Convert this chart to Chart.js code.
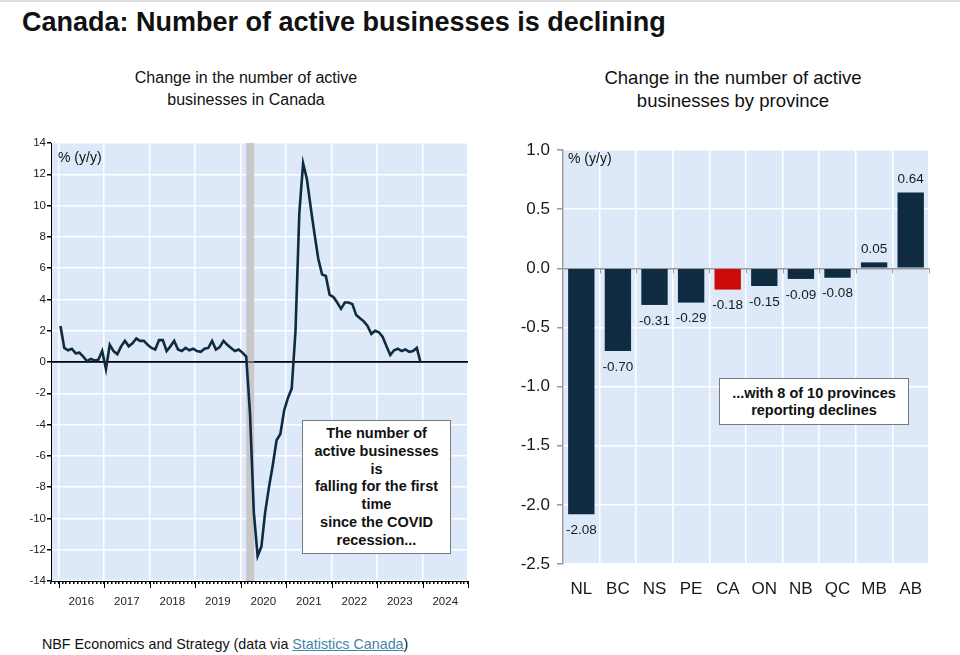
<!DOCTYPE html>
<html>
<head>
<meta charset="utf-8">
<script src="https://cdn.jsdelivr.net/npm/chart.js@4/dist/chart.umd.min.js"></script>
<style>
html,body{margin:0;padding:0;background:#fff;width:960px;height:655px;overflow:hidden;font-family:"Liberation Sans",Arial,Helvetica,sans-serif;color:#111;}
#topline{position:absolute;left:0;top:0;width:960px;height:2px;background:#dcdcdc;}
.title{position:absolute;left:22px;top:7px;font-weight:bold;font-size:27px;line-height:30px;white-space:nowrap;color:#111;}
.sub{position:absolute;width:320px;text-align:center;color:#111;}
.unit{position:absolute;font-size:14px;line-height:16px;color:#111;white-space:nowrap;}
.note{position:absolute;background:#fff;border:1.5px solid #7a7a7a;box-sizing:border-box;font-weight:bold;font-size:14.5px;text-align:center;color:#111;}
.footer{position:absolute;left:42px;top:636px;font-size:14.3px;line-height:16px;white-space:nowrap;color:#111;}
.footer span{color:#3f86a8;text-decoration:underline;}
canvas{position:absolute;}
</style>
</head>
<body>
<div id="topline"></div>
<div class="title">Canada: Number of active businesses is declining</div>
<div class="sub" style="left:86px;top:67px;font-size:16px;line-height:22px;">Change in the number of active<br>businesses in Canada</div>
<div class="sub" style="left:573px;top:66px;font-size:18.5px;line-height:23px;">Change in the number of active<br>businesses by province</div>

<canvas id="c1" width="480" height="490" style="left:0;top:130px;width:480px;height:490px;"></canvas>
<canvas id="c2" width="480" height="490" style="left:480px;top:130px;width:480px;height:490px;"></canvas>

<div class="unit" style="left:58px;top:149px;">% (y/y)</div>
<div class="unit" style="left:568px;top:150px;">% (y/y)</div>

<div class="note" style="left:302px;top:420px;width:149px;height:134px;padding-top:4px;line-height:17.8px;">The number of<br>active businesses<br>is<br>falling for the first<br>time<br>since the COVID<br>recession...</div>
<div class="note" style="left:719px;top:378px;width:190px;height:47px;padding-top:6px;line-height:17px;">...with 8 of 10 provinces<br>reporting declines</div>

<div class="footer">NBF Economics and Strategy (data via <span>Statistics Canada</span>)</div>

<script>
// ---------- Data ----------
// Left chart: monthly y/y % change in active businesses, Jan 2016 .. Dec 2023
const firstYear = 2016;
const activeChange2016 = [2.3, 0.9, 0.75, 0.85, 0.55, 0.6, 0.35, 0.05, 0.2, 0.1, 0.15, 0.7];
const activeChange2017 = [-0.45, 1.1, 0.7, 0.5, 1.0, 1.35, 1.0, 1.2, 1.5, 1.35, 1.35, 1.1];
const activeChange2018 = [0.9, 0.8, 1.4, 1.4, 0.7, 1.0, 1.35, 0.8, 0.7, 0.9, 0.75, 0.85];
const activeChange2019 = [0.7, 0.65, 0.85, 0.9, 1.35, 0.8, 0.95, 1.35, 1.1, 0.9, 0.7, 0.8];
const activeChange2020 = [0.6, 0.35, -3.3, -9.6, -12.4, -11.8, -9.6, -8.0, -6.6, -5.0, -4.6, -3.1];
const activeChange2021 = [-2.3, -1.7, 2.0, 9.5, 12.7, 11.7, 9.9, 8.2, 6.6, 5.6, 5.5, 4.3];
const activeChange2022 = [4.15, 3.8, 3.4, 3.8, 3.8, 3.7, 3.0, 2.8, 2.6, 2.3, 1.8, 2.0];
const activeChange2023 = [1.9, 1.6, 1.0, 0.45, 0.75, 0.85, 0.7, 0.8, 0.65, 0.7, 0.9, -0.05];
const activeChange = [].concat(activeChange2016, activeChange2017, activeChange2018, activeChange2019,
  activeChange2020, activeChange2021, activeChange2022, activeChange2023);
const leftYTicks = [-14, -12, -10, -8, -6, -4, -2, 0, 2, 4, 6, 8, 10, 12, 14];
const yearLabels = ['2016','2017','2018','2019','2020','2021','2022','2023','2024'];
// COVID recession shading (month index from Jan 2016)
const recessionStartMonth = 49.5;
const recessionEndMonth = 51.6;

// Right chart: change by province
const provinces = ['NL','BC','NS','PE','CA','ON','NB','QC','MB','AB'];
const provinceChange = [-2.08, -0.70, -0.31, -0.29, -0.18, -0.15, -0.09, -0.08, 0.05, 0.64];
const rightYTicks = [-2.5, -2.0, -1.5, -1.0, -0.5, 0.0, 0.5, 1.0];

// ---------- Styles ----------
const plotBg = '#dde9f8';
const navy = '#0f2b41';
const red = '#cc0a0a';
const narrowFont = '"Liberation Sans Narrow","Arial Narrow","Liberation Sans",Arial,sans-serif';
const regFont = '"Liberation Sans",Arial,Helvetica,sans-serif';

const bgPlugin = {
  id: 'plotBg',
  beforeDraw(chart) {
    const a = chart.chartArea, c = chart.ctx;
    c.save();
    c.fillStyle = plotBg;
    c.fillRect(a.left, a.top, a.right - a.left, a.bottom - a.top);
    c.restore();
  }
};

// ---------- Left chart ----------
const recessionPlugin = {
  id: 'recession',
  beforeDatasetsDraw(chart) {
    const x = chart.scales.x, a = chart.chartArea, c = chart.ctx;
    const x0 = x.getPixelForValue(recessionStartMonth), x1 = x.getPixelForValue(recessionEndMonth);
    c.save();
    c.fillStyle = '#c8c8c8';
    c.fillRect(x0, a.top, x1 - x0, a.bottom - a.top);
    const y0 = chart.scales.y.getPixelForValue(0);
    c.strokeStyle = '#000'; c.lineWidth = 1.2;
    c.beginPath(); c.moveTo(a.left, y0); c.lineTo(a.right, y0); c.stroke();
    c.restore();
  },
  afterDraw(chart) {
    const x = chart.scales.x, a = chart.chartArea, c = chart.ctx;
    c.save();
    c.strokeStyle = '#000'; c.lineWidth = 1;
    for (let m = 0; m <= 108; m += 12) {
      const px = Math.round(x.getPixelForValue(m)) + 0.5;
      c.beginPath(); c.moveTo(px, a.bottom); c.lineTo(px, a.bottom + 7); c.stroke();
    }
    c.restore();
  }
};

new Chart(document.getElementById('c1'), {
  type: 'line',
  data: {
    datasets: [{
      data: activeChange.map((v, i) => ({ x: i + 0.5, y: v })),
      borderColor: navy,
      borderWidth: 2.6,
      pointRadius: 0,
      tension: 0,
      fill: false
    }]
  },
  options: {
    responsive: false,
    animation: false,
    events: [],
    layout: { padding: { top: 13, right: 12, left: 0, bottom: 0 } },
    plugins: { legend: { display: false }, tooltip: { enabled: false } },
    scales: {
      x: {
        type: 'linear', min: -2, max: 108,
        afterFit: s => { s.height = 39; },
        border: { color: '#000', width: 1 },
        grid: {
          color: ctx => (ctx.tick && ctx.tick.value % 12 === 0) ? '#ffffff' : 'rgba(0,0,0,0)',
          lineWidth: 1.5,
          tickColor: '#000',
          tickLength: 3,
          drawTicks: true
        },
        afterBuildTicks: s => {
          const t = [];
          for (let m = -2; m <= 108; m++) t.push({ value: m });
          s.ticks = t;
        },
        ticks: {
          autoSkip: false, maxRotation: 0, minRotation: 0,
          callback: v => ((v % 12 + 12) % 12 === 6) ? yearLabels[Math.floor(v / 12)] : '',
          font: { family: narrowFont, size: 11.5 },
          color: '#222',
          padding: 11
        }
      },
      y: {
        min: -14, max: 14,
        afterFit: s => { s.width = 51; },
        afterBuildTicks: s => { s.ticks = leftYTicks.map(v => ({ value: v })); },
        border: { color: '#000', width: 1 },
        grid: {
          color: ctx => (ctx.tick && ctx.tick.value === 0) ? '#000' : '#ffffff',
          lineWidth: 1.5,
          tickColor: '#000',
          tickLength: 4
        },
        ticks: {
          font: { family: narrowFont, size: 11.5 },
          color: '#222',
          padding: 1,
          callback: v => String(v)
        }
      }
    }
  },
  plugins: [bgPlugin, recessionPlugin]
});

// ---------- Right chart ----------
const barLabelPlugin = {
  id: 'barLabels',
  afterDatasetsDraw(chart) {
    const c = chart.ctx, meta = chart.getDatasetMeta(0);
    const xs = chart.scales.x, y0 = chart.scales.y.getPixelForValue(0);
    c.save();
    c.strokeStyle = '#9a9a9a'; c.lineWidth = 1;
    const step = (xs.right - xs.left) / provinces.length;
    for (let i = 1; i <= provinces.length; i++) {
      const px = Math.round(xs.left + i * step) + 0.5;
      c.beginPath(); c.moveTo(px, y0); c.lineTo(px, y0 + 5); c.stroke();
    }
    c.font = '13.5px ' + regFont;
    c.fillStyle = '#1a1a1a';
    c.textAlign = 'center';
    c.textBaseline = 'middle';
    meta.data.forEach((el, i) => {
      const v = provinceChange[i];
      const y = v < 0 ? el.y + 16 : el.y - 13;
      c.fillText(v.toFixed(2), el.x, y);
    });
    c.restore();
  }
};

new Chart(document.getElementById('c2'), {
  type: 'bar',
  data: {
    labels: provinces,
    datasets: [{
      data: provinceChange,
      backgroundColor: provinces.map(p => p === 'CA' ? red : navy),
      borderWidth: 0,
      barPercentage: 0.72,
      categoryPercentage: 1.0
    }]
  },
  options: {
    responsive: false,
    animation: false,
    events: [],
    layout: { padding: { top: 20, right: 31, left: 0, bottom: 0 } },
    plugins: { legend: { display: false }, tooltip: { enabled: false } },
    scales: {
      x: {
        afterFit: s => { s.height = 56; },
        border: { display: false },
        grid: { color: '#ffffff', lineWidth: 1.5, drawTicks: false, offset: true },
        ticks: { font: { family: regFont, size: 17 }, color: '#1a1a1a', padding: 15 }
      },
      y: {
        min: -2.5, max: 1.0,
        afterFit: s => { s.width = 83; },
        afterBuildTicks: s => { s.ticks = rightYTicks.map(v => ({ value: v })); },
        border: { color: '#9a9a9a', width: 1.5 },
        grid: {
          color: ctx => (ctx.tick && Math.abs(ctx.tick.value) < 1e-9) ? '#9a9a9a' : '#ffffff',
          lineWidth: 1.5,
          tickColor: '#9a9a9a',
          tickLength: 6
        },
        ticks: {
          font: { family: regFont, size: 17 },
          color: '#1a1a1a',
          padding: 7,
          callback: v => Number(v).toFixed(1)
        }
      }
    }
  },
  plugins: [bgPlugin, barLabelPlugin]
});
</script>
</body>
</html>
